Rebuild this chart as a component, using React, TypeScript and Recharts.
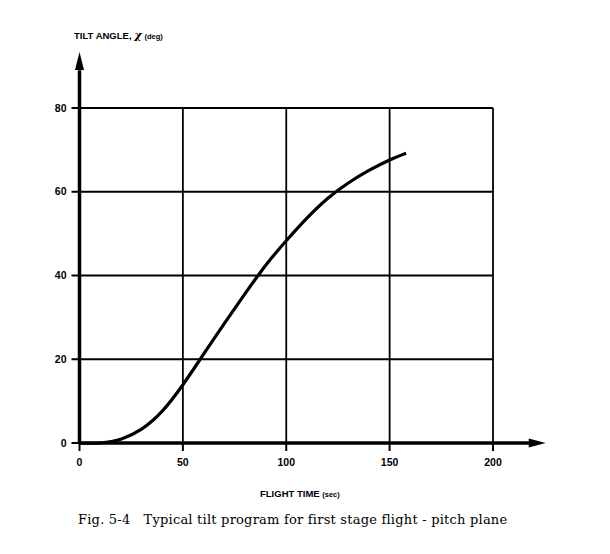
import React from "react";
import {
  LineChart,
  Line,
  XAxis,
  YAxis,
  CartesianGrid,
  ReferenceLine,
  ReferenceDot,
} from "recharts";

const flightTime = [0, 10, 20, 30, 40, 50, 60, 70, 80, 90, 100, 110, 120, 130, 140, 150, 158];
const tiltAngle = [0, 0, 0.9, 3.3, 7.6, 13.9, 21.2, 28.5, 35.6, 42.4, 48.3, 53.7, 58.4, 62.1, 65.1, 67.6, 69.2];
const xTicks = [0, 50, 100, 150, 200];
const yTicks = [0, 20, 40, 60, 80];

const data = flightTime.map((t, i) => ({ t, angle: tiltAngle[i] }));

const sans = "'Liberation Sans', Arial, sans-serif";

const UpArrow = (props: any) => {
  const { cx, cy } = props;
  return <path d={`M${cx},${cy} L${cx - 4.5},${cy + 18} L${cx + 4.5},${cy + 18} Z`} fill="#000" />;
};
const RightArrow = (props: any) => {
  const { cx, cy } = props;
  return <path d={`M${cx},${cy} L${cx - 17},${cy - 4.5} L${cx - 17},${cy + 4.5} Z`} fill="#000" />;
};

export default function App() {
  return (
    <div style={{ position: "relative", width: 600, height: 540, background: "#fff" }}>
      <LineChart
        width={600}
        height={540}
        data={data}
        margin={{ top: 100, right: 115, bottom: 75, left: 11.5 }}
      >
        <CartesianGrid stroke="#000" strokeWidth={1.8} />
        <XAxis
          dataKey="t"
          type="number"
          domain={[0, 200]}
          ticks={xTicks}
          axisLine={false}
          tickLine={{ stroke: "#000", strokeWidth: 2 }}
          tickSize={8}
          tickMargin={8}
          height={30}
          tick={{ fill: "#000", fontSize: 10.5, fontWeight: "bold", fontFamily: sans }}
        />
        <YAxis
          type="number"
          domain={[0, 80]}
          ticks={yTicks}
          axisLine={false}
          tickLine={{ stroke: "#000", strokeWidth: 2 }}
          tickSize={8}
          tickMargin={5}
          width={60}
          tick={{ fill: "#000", fontSize: 10.5, fontWeight: "bold", fontFamily: sans }}
        />
        <ReferenceLine
          segment={[{ x: 0, y: 0 }, { x: 219, y: 0 }]}
          stroke="#000"
          strokeWidth={3.5}
          ifOverflow="visible"
        />
        <ReferenceLine
          segment={[{ x: 0, y: 0 }, { x: 0, y: 89 }]}
          stroke="#000"
          strokeWidth={3.5}
          ifOverflow="visible"
        />
        <ReferenceDot x={225.5} y={0} ifOverflow="visible" shape={RightArrow} />
        <ReferenceDot x={0} y={93.4} ifOverflow="visible" shape={UpArrow} />
        <Line
          type="natural"
          dataKey="angle"
          stroke="#000"
          strokeWidth={3.2}
          dot={false}
          isAnimationActive={false}
        />
      </LineChart>
      <div
        style={{
          position: "absolute",
          left: 66,
          top: 20,
          fontFamily: sans,
          fontWeight: "bold",
          fontSize: 9.5,
          whiteSpace: "nowrap",
          color: "#000",
        }}
      >
        TILT ANGLE, <span style={{ fontFamily: "'DejaVu Serif', serif", fontStyle: "italic", fontSize: 11.5 }}>χ</span>{" "}
        <span style={{ fontSize: 7.5 }}>(deg)</span>
      </div>
      <div
        style={{
          position: "absolute",
          left: 252,
          top: 480,
          fontFamily: sans,
          fontWeight: "bold",
          fontSize: 9.5,
          whiteSpace: "nowrap",
          color: "#000",
        }}
      >
        FLIGHT TIME <span style={{ fontSize: 7.5 }}>(sec)</span>
      </div>
      <div
        style={{
          position: "absolute",
          left: 70,
          top: 504,
          fontFamily: "'DejaVu Serif', 'Liberation Serif', serif",
          fontSize: 13,
          letterSpacing: 0.22,
          whiteSpace: "pre",
          color: "#000",
        }}
      >
        {"Fig. 5-4   Typical tilt program for first stage flight - pitch plane"}
      </div>
    </div>
  );
}
